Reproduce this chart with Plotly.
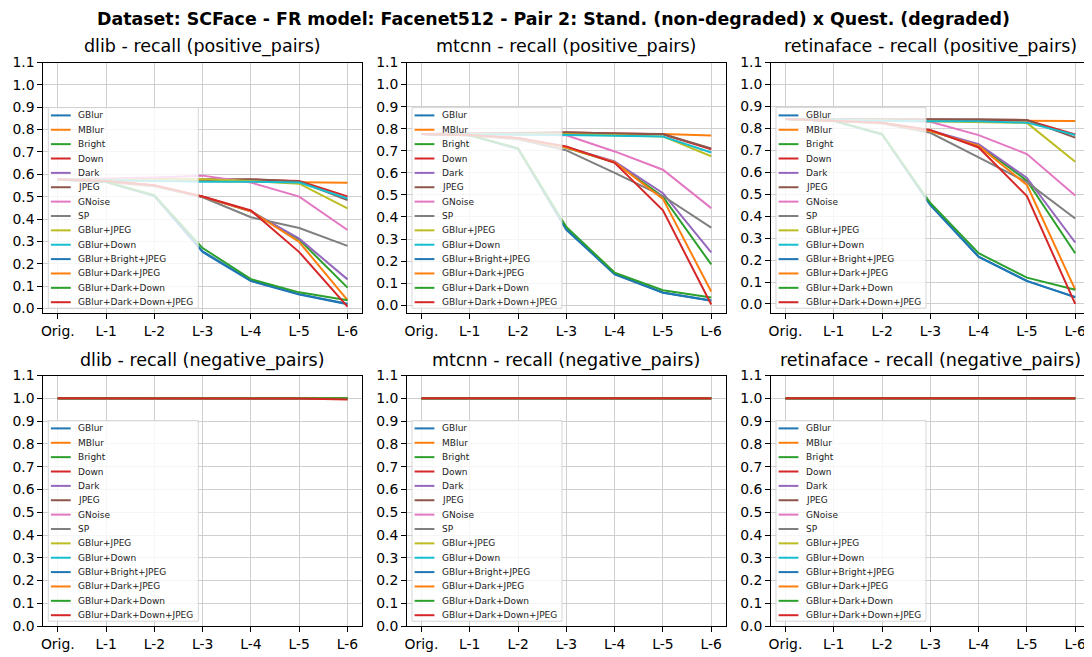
import plotly.graph_objects as go
import plotly.subplots as sp

levels = ["Orig.", "L-1", "L-2", "L-3", "L-4", "L-5", "L-6"]
degradations = ["GBlur", "MBlur", "Bright", "Down", "Dark", "JPEG", "GNoise", "SP",
                "GBlur+JPEG", "GBlur+Down", "GBlur+Bright+JPEG", "GBlur+Dark+JPEG",
                "GBlur+Dark+Down", "GBlur+Dark+Down+JPEG"]
detectors = ["dlib", "mtcnn", "retinaface"]
pair_types = ["positive_pairs", "negative_pairs"]
yticks = [0.0, 0.1, 0.2, 0.3, 0.4, 0.5, 0.6, 0.7, 0.8, 0.9, 1.0, 1.1]

# recall per degradation (rows follow `degradations`), columns follow `levels`
dlib_pos = [
    [0.577, 0.565, 0.505, 0.255, 0.125, 0.064, 0.021],
    [0.577, 0.572, 0.570, 0.570, 0.568, 0.566, 0.562],
    [0.577, 0.570, 0.550, 0.500, 0.435, 0.308, 0.093],
    [0.577, 0.575, 0.573, 0.572, 0.576, 0.570, 0.501],
    [0.577, 0.570, 0.550, 0.500, 0.434, 0.312, 0.130],
    [0.577, 0.577, 0.576, 0.575, 0.578, 0.568, 0.485],
    [0.577, 0.580, 0.586, 0.594, 0.563, 0.500, 0.351],
    [0.577, 0.566, 0.546, 0.497, 0.408, 0.360, 0.280],
    [0.577, 0.576, 0.575, 0.578, 0.570, 0.558, 0.448],
    [0.577, 0.572, 0.570, 0.567, 0.567, 0.563, 0.492],
    [0.577, 0.565, 0.503, 0.252, 0.122, 0.062, 0.019],
    [0.577, 0.570, 0.550, 0.500, 0.435, 0.297, 0.037],
    [0.577, 0.567, 0.507, 0.270, 0.131, 0.072, 0.037],
    [0.577, 0.570, 0.551, 0.501, 0.438, 0.252, 0.008],
]
mtcnn_pos = [
    [0.776, 0.770, 0.710, 0.345, 0.142, 0.058, 0.022],
    [0.776, 0.775, 0.775, 0.776, 0.776, 0.776, 0.769],
    [0.776, 0.772, 0.757, 0.714, 0.648, 0.492, 0.185],
    [0.776, 0.777, 0.778, 0.783, 0.778, 0.775, 0.707],
    [0.776, 0.772, 0.757, 0.716, 0.652, 0.508, 0.240],
    [0.776, 0.778, 0.780, 0.784, 0.778, 0.776, 0.711],
    [0.776, 0.775, 0.772, 0.770, 0.697, 0.614, 0.440],
    [0.776, 0.770, 0.752, 0.702, 0.600, 0.495, 0.352],
    [0.776, 0.776, 0.776, 0.775, 0.770, 0.765, 0.675],
    [0.776, 0.775, 0.773, 0.772, 0.768, 0.765, 0.692],
    [0.776, 0.770, 0.708, 0.342, 0.140, 0.057, 0.020],
    [0.776, 0.772, 0.757, 0.715, 0.648, 0.482, 0.062],
    [0.776, 0.770, 0.712, 0.355, 0.148, 0.068, 0.035],
    [0.776, 0.772, 0.758, 0.720, 0.645, 0.430, 0.003],
]
retinaface_pos = [
    [0.843, 0.835, 0.773, 0.452, 0.216, 0.105, 0.030],
    [0.843, 0.840, 0.838, 0.836, 0.836, 0.835, 0.833],
    [0.843, 0.835, 0.825, 0.788, 0.723, 0.562, 0.231],
    [0.843, 0.842, 0.842, 0.840, 0.840, 0.837, 0.772],
    [0.843, 0.835, 0.825, 0.790, 0.728, 0.574, 0.280],
    [0.843, 0.843, 0.843, 0.842, 0.842, 0.838, 0.758],
    [0.843, 0.840, 0.835, 0.830, 0.769, 0.683, 0.494],
    [0.843, 0.835, 0.822, 0.780, 0.668, 0.555, 0.389],
    [0.843, 0.840, 0.836, 0.833, 0.830, 0.825, 0.648],
    [0.843, 0.838, 0.835, 0.832, 0.832, 0.826, 0.770],
    [0.843, 0.835, 0.772, 0.450, 0.214, 0.104, 0.032],
    [0.843, 0.835, 0.825, 0.788, 0.720, 0.542, 0.065],
    [0.843, 0.834, 0.775, 0.460, 0.231, 0.120, 0.065],
    [0.843, 0.836, 0.826, 0.793, 0.713, 0.491, 0.000],
]
dlib_neg = [
    [1.0, 1.0, 1.0, 1.0, 1.0, 1.0, 1.0],
    [1.0, 1.0, 1.0, 1.0, 1.0, 1.0, 1.0],
    [1.0, 1.0, 1.0, 1.0, 1.0, 1.0, 1.0],
    [1.0, 1.0, 1.0, 1.0, 1.0, 1.0, 0.998],
    [1.0, 1.0, 1.0, 1.0, 1.0, 1.0, 1.0],
    [1.0, 1.0, 1.0, 1.0, 1.0, 1.0, 1.0],
    [1.0, 1.0, 1.0, 1.0, 1.0, 1.0, 1.0],
    [1.0, 1.0, 1.0, 1.0, 1.0, 1.0, 1.0],
    [1.0, 1.0, 1.0, 1.0, 1.0, 1.0, 1.0],
    [1.0, 1.0, 1.0, 1.0, 1.0, 1.0, 1.0],
    [1.0, 1.0, 1.0, 1.0, 1.0, 1.0, 1.0],
    [1.0, 1.0, 1.0, 1.0, 1.0, 1.0, 1.0],
    [1.0, 1.0, 1.0, 1.0, 1.0, 1.0, 1.0],
    [1.0, 1.0, 1.0, 1.0, 1.0, 0.999, 0.995],
]
mtcnn_neg = [
    [1.0, 1.0, 1.0, 1.0, 1.0, 1.0, 1.0],
    [1.0, 1.0, 1.0, 1.0, 1.0, 1.0, 1.0],
    [1.0, 1.0, 1.0, 1.0, 1.0, 1.0, 1.0],
    [1.0, 1.0, 1.0, 1.0, 1.0, 1.0, 1.0],
    [1.0, 1.0, 1.0, 1.0, 1.0, 1.0, 1.0],
    [1.0, 1.0, 1.0, 1.0, 1.0, 1.0, 1.0],
    [1.0, 1.0, 1.0, 1.0, 1.0, 1.0, 1.0],
    [1.0, 1.0, 1.0, 1.0, 1.0, 1.0, 1.0],
    [1.0, 1.0, 1.0, 1.0, 1.0, 1.0, 1.0],
    [1.0, 1.0, 1.0, 1.0, 1.0, 1.0, 1.0],
    [1.0, 1.0, 1.0, 1.0, 1.0, 1.0, 1.0],
    [1.0, 1.0, 1.0, 1.0, 1.0, 1.0, 1.0],
    [1.0, 1.0, 1.0, 1.0, 1.0, 1.0, 1.0],
    [1.0, 1.0, 1.0, 1.0, 1.0, 1.0, 1.0],
]
retinaface_neg = [
    [1.0, 1.0, 1.0, 1.0, 1.0, 1.0, 1.0],
    [1.0, 1.0, 1.0, 1.0, 1.0, 1.0, 1.0],
    [1.0, 1.0, 1.0, 1.0, 1.0, 1.0, 1.0],
    [1.0, 1.0, 1.0, 1.0, 1.0, 1.0, 1.0],
    [1.0, 1.0, 1.0, 1.0, 1.0, 1.0, 1.0],
    [1.0, 1.0, 1.0, 1.0, 1.0, 1.0, 1.0],
    [1.0, 1.0, 1.0, 1.0, 1.0, 1.0, 1.0],
    [1.0, 1.0, 1.0, 1.0, 1.0, 1.0, 1.0],
    [1.0, 1.0, 1.0, 1.0, 1.0, 1.0, 1.0],
    [1.0, 1.0, 1.0, 1.0, 1.0, 1.0, 1.0],
    [1.0, 1.0, 1.0, 1.0, 1.0, 1.0, 1.0],
    [1.0, 1.0, 1.0, 1.0, 1.0, 1.0, 1.0],
    [1.0, 1.0, 1.0, 1.0, 1.0, 1.0, 1.0],
    [1.0, 1.0, 1.0, 1.0, 1.0, 1.0, 1.0],
]

tab10 = ["#1f77b4", "#ff7f0e", "#2ca02c", "#d62728", "#9467bd",
         "#8c564b", "#e377c2", "#7f7f7f", "#bcbd22", "#17becf"]
colors = [tab10[i % 10] for i in range(len(degradations))]

# the page body has an 8px margin, so the figure starts at (8, 8) in the window
OFF = 8
W, H = 1092 - OFF, 657 - OFF
FONT = "DejaVu Sans"
# axes boxes in window pixels
col_px = [(43.3, 362.0), (407.0, 725.7), (771.0, 1089.7)]
row_px = [(62.5, 313.2), (375.5, 626.2)]


def fx(px):
    return (px - OFF) / W


def fy(py):
    return 1 - (py - OFF) / H


data = [[dlib_pos, mtcnn_pos, retinaface_pos], [dlib_neg, mtcnn_neg, retinaface_neg]]
fig = sp.make_subplots(rows=2, cols=3)
shapes, annotations = [], []
xs = list(range(len(levels)))

for r in range(2):
    for c in range(3):
        values = data[r][c]
        x0, x1 = col_px[c]
        y0, y1 = row_px[r]
        for i, name in enumerate(degradations):
            fig.add_trace(go.Scatter(x=xs, y=values[i], mode="lines", name=name,
                                     line=dict(color=colors[i], width=2), showlegend=False),
                          row=r + 1, col=c + 1)
        lo = min(min(v) for v in values)
        hi = max(max(v) for v in values)
        ymin = min(0.0, lo - 0.05 * (hi - lo))
        fig.update_xaxes(domain=[fx(x0), fx(x1)], range=[-0.3, 6.3], tickvals=xs, ticktext=levels,
                         row=r + 1, col=c + 1)
        fig.update_yaxes(domain=[fy(y1), fy(y0)], range=[ymin, 1.1], tickvals=yticks, tickformat=".1f",
                         row=r + 1, col=c + 1)

        annotations.append(dict(text=f"{detectors[c]} - recall ({pair_types[r]})",
                                x=fx((x0 + x1) / 2), y=fy(y0), xref="paper", yref="paper",
                                xanchor="center", yanchor="bottom", yshift=3, showarrow=False,
                                font=dict(family=FONT, size=17.5, color="black")))

        # legend box, lower left inside the axes
        lx = x0 + 5
        lb = y1 - 5
        lt = lb - 200.6
        shapes.append(dict(type="rect", xref="paper", yref="paper", x0=fx(lx), x1=fx(lx + 150),
                           y0=fy(lb), y1=fy(lt), fillcolor="rgba(255,255,255,0.8)",
                           line=dict(color="rgba(204,204,204,0.8)", width=1), layer="above"))
        for i, name in enumerate(degradations):
            cy = lt + 7.8 + i * 14.37
            shapes.append(dict(type="line", xref="paper", yref="paper", x0=fx(lx + 2.6), x1=fx(lx + 22.4),
                               y0=fy(cy), y1=fy(cy), line=dict(color=colors[i], width=2), layer="above"))
            annotations.append(dict(text=name, x=fx(lx + 27.5), y=fy(cy), xref="paper", yref="paper",
                                    xanchor="left", yanchor="middle", showarrow=False,
                                    font=dict(family=FONT, size=9, color="#222222")))

annotations.append(dict(text="Dataset: SCFace - FR model: Facenet512 - Pair 2: Stand. (non-degraded) x Quest. (degraded)",
                        x=fx(553), y=1, xref="paper", yref="paper", xanchor="center", yanchor="top",
                        borderpad=0, showarrow=False,
                        font=dict(family=FONT, size=17.4, color="black", weight="bold")))

axis_style = dict(showline=True, linecolor="black", linewidth=1, mirror=True, ticks="outside", ticklen=5,
                  tickcolor="black", showgrid=True, gridcolor="#cfcfcf", gridwidth=1.3, zeroline=False,
                  automargin=False, tickfont=dict(family=FONT, size=13.9, color="black"))
fig.update_xaxes(**axis_style)
fig.update_yaxes(**axis_style)
fig.update_layout(width=W, height=H, margin=dict(l=0, r=0, t=0, b=0, pad=0), plot_bgcolor="white",
                  paper_bgcolor="white", showlegend=False, shapes=shapes, annotations=annotations,
                  font=dict(family=FONT))
fig.write_html("out.html")
